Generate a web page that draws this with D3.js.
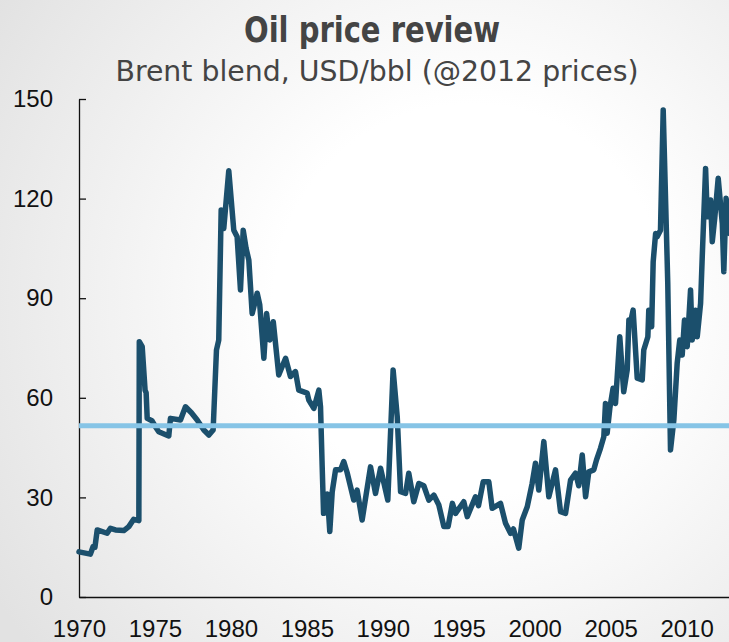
<!DOCTYPE html>
<html>
<head>
<meta charset="utf-8">
<script src="https://cdn.jsdelivr.net/npm/d3@7"></script>
<style>
  html, body { margin: 0; padding: 0; }
  #chart { width: 729px; height: 642px; }
</style>
</head>
<body>
<div id="chart"></div>
<script>
// Brent blend, USD/bbl in 2012 prices
const years = [
    1970.00, 1970.75, 1970.93, 1971.05, 1971.20, 1971.85, 1972.07, 1972.40, 1972.95, 1973.28,
    1973.60, 1973.94, 1973.97, 1974.16, 1974.35, 1974.42, 1974.49, 1974.80, 1975.03, 1975.25,
    1975.91, 1976.02, 1976.68, 1977.01, 1977.40, 1977.78, 1978.22, 1978.55, 1978.83, 1979.05,
    1979.20, 1979.36, 1979.53, 1979.86, 1980.19, 1980.41, 1980.63, 1980.81, 1981.00, 1981.18,
    1981.40, 1981.73, 1981.90, 1982.17, 1982.35, 1982.56, 1982.79, 1983.15, 1983.60, 1983.92,
    1984.25, 1984.47, 1985.02, 1985.13, 1985.46, 1985.79, 1985.90, 1986.01, 1986.10, 1986.30,
    1986.35, 1986.51, 1986.67, 1986.89, 1987.22, 1987.43, 1987.65, 1988.09, 1988.31, 1988.64,
    1989.19, 1989.52, 1989.85, 1990.33, 1990.68, 1990.95, 1991.17, 1991.50, 1991.71, 1992.04,
    1992.37, 1992.70, 1993.03, 1993.36, 1993.69, 1994.02, 1994.30, 1994.58, 1994.79, 1995.33,
    1995.56, 1996.10, 1996.30, 1996.61, 1996.98, 1997.20, 1997.75, 1998.08, 1998.41, 1998.60,
    1998.95, 1999.18, 1999.51, 1999.83, 2000.05, 2000.27, 2000.60, 2000.93, 2001.37, 2001.70,
    2002.03, 2002.36, 2002.69, 2002.90, 2003.13, 2003.35, 2003.56, 2003.89, 2004.07, 2004.33,
    2004.55, 2004.66, 2004.77, 2004.95, 2005.16, 2005.32, 2005.60, 2005.86, 2006.09, 2006.20,
    2006.30, 2006.48, 2006.75, 2007.08, 2007.18, 2007.45, 2007.51, 2007.70, 2007.80, 2007.96,
    2008.06, 2008.28, 2008.46, 2008.76, 2008.94, 2009.16, 2009.38, 2009.55, 2009.71, 2009.86,
    2010.04, 2010.26, 2010.37, 2010.59, 2010.70, 2010.92, 2011.03, 2011.25, 2011.36, 2011.58,
    2011.69, 2011.85, 2012.08, 2012.20, 2012.35, 2012.45, 2012.60, 2012.83
];
const prices = [
    13.6, 12.9, 15.2, 15.0, 20.2, 19.2, 20.7, 20.2, 20.0, 21.2,
    23.4, 23.0, 76.9, 75.4, 62.3, 61.5, 53.8, 53.1, 51.3, 49.8,
    48.5, 53.8, 53.3, 57.3, 55.5, 53.3, 50.3, 48.8, 50.3, 74.4,
    77.4, 116.6, 111.0, 128.4, 110.5, 108.5, 92.5, 110.5, 105.0, 101.5,
    85.4, 91.5, 88.0, 71.9, 85.4, 77.4, 82.9, 66.9, 71.9, 66.4,
    67.9, 62.3, 61.4, 59.3, 56.8, 62.3, 57.3, 39.2, 25.2, 25.5,
    31.0, 19.7, 31.7, 38.3, 38.3, 40.8, 37.5, 29.2, 32.2, 23.2,
    39.2, 31.2, 38.8, 29.2, 68.4, 54.3, 31.7, 31.2, 37.3, 28.7,
    34.2, 33.5, 29.2, 30.7, 27.7, 21.2, 21.2, 28.2, 25.2, 28.7,
    24.2, 30.2, 27.5, 34.7, 34.7, 26.7, 28.2, 22.2, 19.2, 20.5,
    14.7, 23.2, 27.2, 34.2, 40.3, 32.2, 46.8, 30.2, 38.3, 25.7,
    25.2, 35.2, 37.3, 33.5, 42.8, 30.2, 37.7, 38.3, 41.3, 44.8,
    48.3, 58.3, 49.3, 57.0, 62.9, 58.3, 78.4, 61.8, 68.4, 83.4,
    82.5, 86.4, 65.9, 65.4, 74.4, 78.4, 86.4, 81.4, 101.0, 109.5,
    108.5, 110.5, 146.7, 94.5, 44.3, 53.3, 70.4, 77.4, 72.9, 83.4,
    75.4, 92.5, 77.4, 86.4, 78.4, 88.4, 102.5, 129.1, 114.5, 119.6,
    107.0, 114.0, 126.1, 120.0, 112.5, 98.0, 120.1, 109.5
];
const averagePrice = 51.6;
const yTicks = [0, 30, 60, 90, 120, 150];
const xTicks = [1970, 1975, 1980, 1985, 1990, 1995, 2000, 2005, 2010];

const titleText = "Oil price review",
    subtitleText = "Brent blend, USD/bbl (@2012 prices)";

let width = 729,
    height = 642,
    plotLeft = 79,
    plotBottom = 597,
    plotTop = 99,
    pxPerYear = 15.19, // horizontal spacing of the year axis
    svg, x, y, line;

svg = d3.select("#chart")
    .append("svg")
    .attr("width", width)
    .attr("height", height)
    .attr("viewBox", `0 0 ${width} ${height}`);

// soft grey vignette behind everything
let grad = svg.append("defs")
    .append("radialGradient")
    .attr("id", "bg_grad")
    .attr("gradientUnits", "userSpaceOnUse")
    .attr("cx", 470).attr("cy", 300).attr("r", 560);
grad.append("stop").attr("offset", "0.35").attr("stop-color", "#ffffff");
grad.append("stop").attr("offset", "1").attr("stop-color", "#e2e2e2");

svg.append("rect")
    .attr("width", width)
    .attr("height", height)
    .attr("fill", "url(#bg_grad)");

// scales
x = d3.scaleLinear()
    .domain([1970, 2013])
    .range([plotLeft, plotLeft + 43 * pxPerYear]);
y = d3.scaleLinear()
    .domain([0, 150])
    .range([plotBottom, plotTop]);

// titles
svg.append("text")
    .attr("x", 372)
    .attr("y", 42)
    .attr("text-anchor", "middle")
    .attr("font-family", "'DejaVu Sans Condensed', 'Open Sans', sans-serif")
    .attr("font-weight", "bold")
    .attr("font-size", 35)
    .attr("textLength", 256)
    .attr("lengthAdjust", "spacingAndGlyphs")
    .attr("fill", "#444")
    .text(titleText);

svg.append("text")
    .attr("x", 377)
    .attr("y", 81)
    .attr("text-anchor", "middle")
    .attr("font-family", "'DejaVu Sans Condensed', 'Open Sans', sans-serif")
    .attr("font-size", 29)
    .attr("textLength", 523)
    .attr("lengthAdjust", "spacingAndGlyphs")
    .attr("fill", "#444")
    .text(subtitleText);

// axes
svg.append("g")
    .attr("transform", `translate(${plotLeft},0)`)
    .call(d3.axisLeft(y)
        .tickValues(yTicks)
        .tickSizeInner(-7)
        .tickSizeOuter(0)
        .tickPadding(26));

svg.append("g")
    .attr("transform", `translate(0,${plotBottom})`)
    .call(d3.axisBottom(x)
        .tickValues(xTicks)
        .tickFormat(d3.format("d"))
        .tickSize(0)
        .tickPadding(23));

svg.selectAll(".tick text")
    .attr("font-family", "'Liberation Sans', Arial, sans-serif")
    .attr("font-size", 24)
    .attr("fill", "#111");
svg.selectAll(".domain, .tick line")
    .attr("stroke", "#111")
    .attr("stroke-width", 1.3);

// price line
line = d3.line()
    .x((d, i) => x(years[i]))
    .y(d => y(d));

svg.append("path")
    .datum(prices)
    .attr("d", line)
    .attr("fill", "none")
    .attr("stroke", "#1b4f6c")
    .attr("stroke-width", 5.5)
    .attr("stroke-linejoin", "round")
    .attr("stroke-linecap", "round");

// long-run average
svg.append("line")
    .attr("x1", plotLeft)
    .attr("x2", width)
    .attr("y1", y(averagePrice))
    .attr("y2", y(averagePrice))
    .attr("stroke", "#86c4e6")
    .attr("stroke-width", 5);
</script>
</body>
</html>
